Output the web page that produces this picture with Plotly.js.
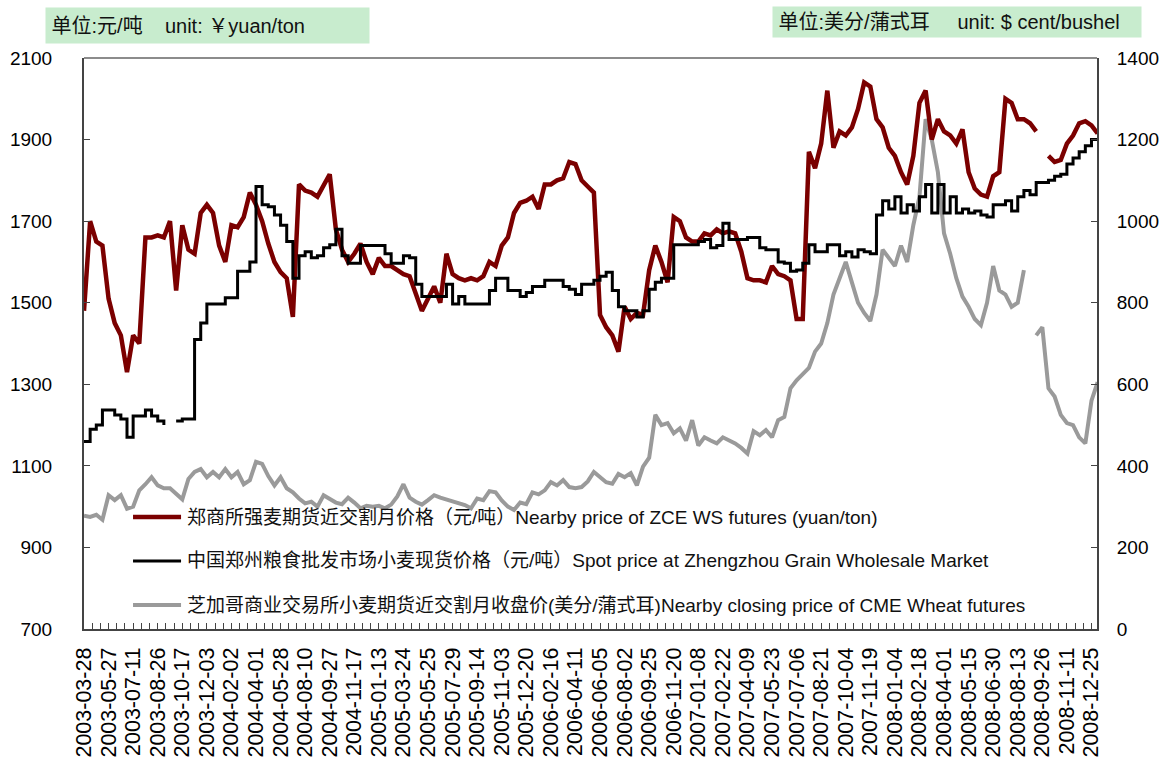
<!DOCTYPE html>
<html>
<head>
<meta charset="utf-8">
<script src="https://cdn.plot.ly/plotly-3.0.1.min.js"></script>
<style>
  html, body { margin: 0; padding: 0; background: #fff; }
  #chart { width: 1169px; height: 762px; }
</style>
</head>
<body>
<div id="chart"></div>
<script>
// Category labels shown under the x axis (one every 4 samples)
const tickLabels = [
    '2003-03-28', '2003-05-27', '2003-07-11', '2003-08-26', '2003-10-17', '2003-12-03',
    '2004-02-02', '2004-04-01', '2004-05-28', '2004-08-10', '2004-09-27', '2004-11-17',
    '2005-01-13', '2005-03-24', '2005-05-25', '2005-07-29', '2005-09-14', '2005-11-03', '2005-12-20',
    '2006-02-16', '2006-04-11', '2006-06-05', '2006-08-02', '2006-09-25', '2006-11-20',
    '2007-01-08', '2007-02-22', '2007-04-09', '2007-05-23', '2007-07-06', '2007-08-21', '2007-10-04', '2007-11-19',
    '2008-01-04', '2008-02-18', '2008-04-01', '2008-05-15', '2008-06-30', '2008-08-13', '2008-09-26', '2008-11-11', '2008-12-25'
];
const SAMPLES_PER_LABEL = 4;

// Series names (legend text)
const seriesNames = [
    '郑商所强麦期货近交割月价格（元/吨）Nearby price of ZCE WS futures (yuan/ton)',
    '中国郑州粮食批发市场小麦现货价格（元/吨）Spot price at Zhengzhou Grain Wholesale Market',
    '芝加哥商业交易所小麦期货近交割月收盘价(美分/蒲式耳)Nearby closing price of CME Wheat futures'
];

// ZCE strong wheat nearby futures (yuan/ton)
const zceFutures = [
    1480, 1700, 1650, 1640, 1510, 1450, 1420, 1330, 1420, 1400,
    1660, 1660, 1665, 1660, 1700, 1530, 1690, 1630, 1620, 1720,
    1740, 1720, 1640, 1600, 1690, 1685, 1710, 1770, 1740, 1700,
    1645, 1600, 1575, 1560, 1465, 1790, 1775, 1770, 1760, 1790,
    1815, 1680, 1630, 1600, 1620, 1645, 1600, 1570, 1610, 1590,
    1590, 1580, 1570, 1565, 1520, 1480, 1510, 1540, 1500, 1620,
    1570, 1560, 1555, 1560, 1555, 1565, 1600, 1590, 1640, 1660,
    1720, 1745, 1750, 1760, 1730, 1790, 1790, 1800, 1805, 1845,
    1840, 1800, 1785, 1770, 1470, 1440, 1420, 1380, 1490, 1460,
    1475, 1470, 1580, 1640, 1600, 1550, 1710, 1700, 1660, 1650,
    1650, 1670, 1665, 1680, 1670, 1675, 1670, 1625, 1560, 1555,
    1555, 1550, 1590, 1570, 1565, 1555, 1460, 1460, 1870, 1830,
    1890, 2020, 1880, 1920, 1910, 1930, 1975, 2040, 2030, 1950,
    1930, 1880, 1860, 1820, 1790, 1860, 1990, 2020, 1900, 1950,
    1920, 1910, 1890, 1925, 1820, 1780, 1765, 1760, 1810, 1820,
    2000, 1990, 1950, 1950, 1940, 1920, null, 1860, 1845, 1850,
    1890, 1910, 1940, 1945, 1935, 1915
];

// Zhengzhou grain wholesale market spot wheat (yuan/ton)
const zhengzhouSpot = [
    1160, 1190, 1200, 1237, 1237, 1225, 1215, 1170, 1222, 1222,
    1237, 1222, 1210, 1200, null, 1210, 1215, 1215, 1410, 1450,
    1497, 1497, 1497, 1512, 1512, 1577, 1577, 1600, 1785, 1740,
    1735, 1715, 1690, 1650, 1560, 1615, 1625, 1610, 1615, 1635,
    1642, 1680, 1615, 1597, 1597, 1640, 1640, 1640, 1640, 1620,
    1597, 1597, 1615, 1610, 1545, 1515, 1515, 1515, 1515, 1545,
    1497, 1515, 1497, 1497, 1497, 1497, 1530, 1560, 1560, 1530,
    1530, 1515, 1525, 1540, 1540, 1555, 1555, 1555, 1540, 1533,
    1520, 1545, 1545, 1555, 1565, 1575, 1530, 1490, 1480, 1480,
    1465, 1480, 1533, 1550, 1560, 1560, 1642, 1642, 1642, 1642,
    1650, 1655, 1635, 1640, 1695, 1655, 1655, 1655, 1660, 1660,
    1635, 1630, 1630, 1600, 1597, 1577, 1580, 1597, 1642, 1625,
    1625, 1642, 1642, 1615, 1625, 1612, 1630, 1625, 1620, 1715,
    1750, 1730, 1760, 1720, 1740, 1725, 1760, 1790, 1720, 1790,
    1720, 1760, 1720, 1730, 1720, 1725, 1715, 1710, 1740, 1740,
    1750, 1725, 1760, 1775, 1765, 1795, 1795, 1800, 1810, 1815,
    1840, 1855, 1870, 1885, 1900, 1900
];

// CME nearby wheat futures close (US cents/bushel), right axis
const cmeWheat = [
    278, 275, 280, 268, 328, 316, 328, 295, 300, 340,
    355, 372, 352, 345, 345, 330, 318, 368, 385, 392,
    372, 385, 372, 392, 372, 385, 355, 365, 410, 405,
    375, 352, 372, 345, 335, 320, 308, 312, 300, 328,
    318, 310, 306, 322, 310, 296, 302, 300, 302, 296,
    305, 325, 355, 322, 312, 305, 316, 328, 322, 318,
    314, 308, 304, 296, 320, 316, 338, 335, 315, 300,
    292, 310, 306, 335, 330, 340, 360, 352, 365, 348,
    345, 348, 362, 385, 372, 360, 356, 380, 372, 382,
    352, 398, 420, 525, 500, 505, 480, 492, 462, 512,
    450, 470, 462, 455, 470, 462, 455, 444, 430, 485,
    475, 488, 470, 512, 520, 590, 610, 625, 640, 680,
    700, 750, 820, 860, 900, 850, 800, 775, 755, 820,
    930, 910, 890, 940, 900, 990, 1060, 1250, 1200, 1120,
    970, 920, 860, 815, 790, 760, 745, 800, 890, 830,
    820, 790, 800, 880, null, 720, 740, 590, 570, 525,
    505, 500, 470, 455, 560, 605
];

const sampleIdx = zceFutures.map((_, i) => i);
const tickPos = tickLabels.map((_, i) => i * SAMPLES_PER_LABEL);

const latinCjk = '"Liberation Sans", Arial, "Noto Sans CJK SC", sans-serif';
const latin = '"Liberation Sans", Arial, sans-serif';
const nb = '\u00a0';

const seriesStyle = [
    {color: '#7b0000', width: 4.5},
    {color: '#000000', width: 3},
    {color: '#9a9a9a', width: 4}
];

// gray (right axis) is drawn first so the two yuan series sit on top
const data = [{
    x: sampleIdx,
    y: cmeWheat,
    yaxis: 'y',
    type: 'scatter',
    mode: 'lines',
    name: seriesNames[2],
    line: seriesStyle[2],
    connectgaps: false
}, {
    x: sampleIdx,
    y: zceFutures,
    yaxis: 'y2',
    type: 'scatter',
    mode: 'lines',
    name: seriesNames[0],
    line: seriesStyle[0],
    connectgaps: false
}, {
    x: sampleIdx,
    y: zhengzhouSpot,
    yaxis: 'y2',
    type: 'scatter',
    mode: 'lines',
    name: seriesNames[1],
    line: Object.assign({shape: 'hv'}, seriesStyle[1]),
    connectgaps: false
}];

// Hand-made legend so the sample lines are as long as in the original
const legendShapes = [];
const legendNotes = [];
const legendY = [0.1961, 0.1191, 0.042];
seriesNames.forEach((name, i) => {
    legendShapes.push({
        type: 'line', xref: 'paper', yref: 'paper',
        x0: 0.0484, x1: 0.0958, y0: legendY[i], y1: legendY[i],
        line: seriesStyle[i]
    });
    legendNotes.push({
        xref: 'paper', yref: 'paper',
        x: 0.1, y: legendY[i], xanchor: 'left', yanchor: 'middle',
        showarrow: false, text: name,
        font: {family: latinCjk, size: 19, color: '#111'}
    });
});

const layout = {
    width: 1169,
    height: 762,
    margin: {l: 84, r: 72, t: 58, b: 133},
    paper_bgcolor: '#ffffff',
    plot_bgcolor: '#ffffff',
    font: {family: latinCjk, color: '#000', size: 19},
    showlegend: false,
    xaxis: {
        range: [0, 164.9],
        tickmode: 'array',
        tickvals: tickPos,
        ticktext: tickLabels,
        tickangle: -90,
        ticks: 'inside',
        ticklen: 6,
        tickcolor: '#444',
        ticklabelstandoff: 8,
        tickfont: {size: 21.5, family: latin},
        showline: true,
        linecolor: '#444',
        linewidth: 2,
        showgrid: false,
        zeroline: false,
        minor: {tickmode: 'linear', tick0: 0, dtick: SAMPLES_PER_LABEL / 3, ticks: 'inside', ticklen: 6, tickcolor: '#444'}
    },
    // right axis: CME, cents/bushel
    yaxis: {
        side: 'right',
        range: [0, 1400],
        dtick: 200,
        tick0: 0,
        ticks: 'inside',
        ticklen: 6,
        tickcolor: '#444',
        ticklabelstandoff: 14,
        showline: true,
        linecolor: '#444',
        linewidth: 2,
        showgrid: false,
        zeroline: false,
        tickfont: {size: 19, family: latin}
    },
    // left axis: yuan/ton
    yaxis2: {
        overlaying: 'y',
        side: 'left',
        range: [700, 2100],
        dtick: 200,
        tick0: 700,
        ticks: 'inside',
        ticklen: 6,
        tickcolor: '#444',
        ticklabelstandoff: 26,
        showline: true,
        linecolor: '#444',
        linewidth: 2,
        showgrid: false,
        zeroline: false,
        tickfont: {size: 19, family: latin}
    },
    shapes: [{
        type: 'line', xref: 'paper', yref: 'paper',
        x0: 0, x1: 1, y0: 1, y1: 1,
        line: {color: '#8c8c8c', width: 2}
    }].concat(legendShapes),
    annotations: [{
        xref: 'paper', yref: 'paper',
        x: 0.1224, y: 1.0569, xanchor: 'center', yanchor: 'middle',
        width: 323, height: 35, align: 'left',
        bgcolor: '#c8ecce', borderpad: 0, showarrow: false,
        text: nb + '单位:元/吨' + nb + nb + nb + nb + 'unit: ￥yuan/ton',
        font: {size: 20, family: latinCjk, color: '#111'}
    }, {
        xref: 'paper', yref: 'paper',
        x: 0.8618, y: 1.063, xanchor: 'center', yanchor: 'middle',
        width: 368, height: 30, align: 'left',
        bgcolor: '#c8ecce', borderpad: 0, showarrow: false,
        text: nb + '单位:美分/蒲式耳' + nb + nb + nb + nb + nb + 'unit: $ cent/bushel',
        font: {size: 20, family: latinCjk, color: '#111'}
    }].concat(legendNotes)
};

const config = {staticPlot: true, displayModeBar: false};

Plotly.newPlot('chart', data, layout, config);
</script>
</body>
</html>
